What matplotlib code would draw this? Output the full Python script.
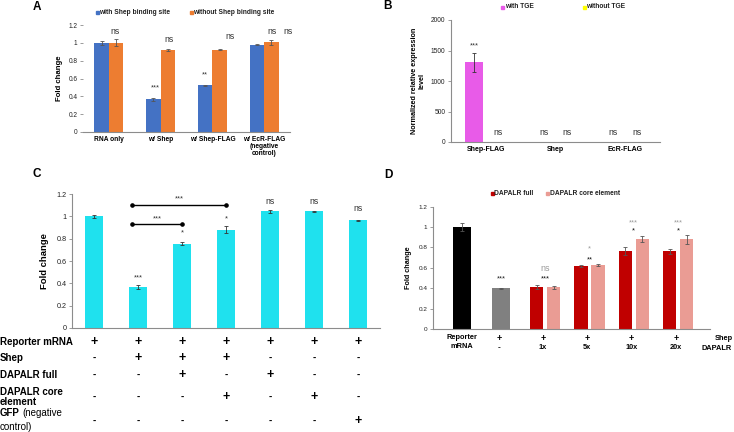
import matplotlib
matplotlib.use('Agg')
import matplotlib.pyplot as plt
import matplotlib.transforms as mtransforms
from matplotlib.patches import Rectangle
import numpy as np

plt.rcParams['font.family'] = ['Liberation Sans', 'DejaVu Sans']

######
# panel A
a_groups = ['RNA only', 'w/ Shep', 'w/ Shep-FLAG', 'w/ EcR-FLAG\n(negative\ncontrol)']
a_with = [1.0, 0.365, 0.525, 0.98]
a_with_err = [0.02, 0.02, 0.005, 0.003]
a_without = [1.0, 0.92, 0.925, 1.005]
a_without_err = [0.04, 0.008, 0.004, 0.025]
# panel B
b_groups = ['Shep-FLAG', 'Shep', 'EcR-FLAG']
b_with = [1310, 0, 0]
b_with_err = [155, 0, 0]
b_without = [0, 0, 0]
# panel C
c_values = [1.0, 0.365, 0.755, 0.88, 1.045, 1.045, 0.965]
c_err = [0.015, 0.018, 0.015, 0.03, 0.015, 0.003, 0.005]
c_sig = ['', '***', '*', '*', 'ns', 'ns', 'ns']
c_rows = ['Reporter mRNA', 'Shep', 'DAPALR full', 'DAPALR core\nelement', 'GFP']
c_table = ['+++++++', '-+++---', '--+-+--', '---+-+-', '------+']
# panel D
d_ctrl = [1.0, 0.4]
d_ctrl_err = [0.035, 0.005]
d_doses = ['1x', '5x', '10x', '20x']
d_full = [0.415, 0.615, 0.765, 0.76]
d_full_err = [0.02, 0.01, 0.035, 0.025]
d_core = [0.41, 0.625, 0.885, 0.88]
d_core_err = [0.015, 0.01, 0.03, 0.045]
######

W, H = 734, 432
fig = plt.figure(figsize=(W/100., H/100.), dpi=100)
fig.patch.set_facecolor('white')

def px_axes(x0, y0, x1, y1):
    return fig.add_axes([x0/W, 1-y1/H, (x1-x0)/W, (y1-y0)/H])

def fy(ypx):
    return 1-ypx/H

def style(ax, left=True, fs=4.7):
    for s in ['top', 'right']:
        ax.spines[s].set_visible(False)
    ax.spines['bottom'].set_color('#8c8c8c')
    ax.spines['bottom'].set_linewidth(0.8)
    ax.spines['left'].set_color('#8c8c8c')
    ax.spines['left'].set_linewidth(0.8)
    ax.spines['left'].set_visible(left)
    ax.tick_params(axis='y', length=2, width=0.6, color='#8c8c8c', labelsize=fs, pad=2, labelcolor='#222222')
    ax.tick_params(axis='x', length=0, pad=3)

def legend_item(xpx, ypx, color, label, fs=4.8):
    fig.patches.append(Rectangle((xpx/W - 1.5/W, fy(ypx) - 1.5/H), 3./W, 3./H,
                                 transform=fig.transFigure, color=color, figure=fig))
    fig.text((xpx+2.5)/W, fy(ypx), label, fontsize=fs, fontweight='bold', va='center', ha='left', color='#222222')

ekw = dict(ecolor='#555555', elinewidth=0.6, capsize=1.3, capthick=0.6)

######  A
ax = px_axes(83, 25, 290, 132)
x = np.arange(len(a_groups))
ax.bar(x-0.14, a_with, 0.28, yerr=a_with_err, color='#4472C4', error_kw=ekw)
ax.bar(x+0.14, a_without, 0.28, yerr=a_without_err, color='#ED7D31', error_kw=ekw)
ax.set_xlim(-0.5, 3.5)
ax.set_ylim(0, 1.2)
ax.set_yticks([0, 0.2, 0.4, 0.6, 0.8, 1, 1.2])
ax.set_yticklabels(['0', '0.2', '0.4', '0.6', '0.8', '1', '1.2'])
ax.set_xticks(x)
ax.set_xticklabels(a_groups, fontsize=4.8, fontweight='bold', va='top', linespacing=1.0)
style(ax, left=False)
ax.set_ylabel('Fold change', fontsize=5.6, fontweight='bold', labelpad=4)
for xx, yy, t in [(0.12, 1.13, 'ns'), (1.16, 1.04, 'ns'), (2.34, 1.07, 'ns'), (3.15, 1.13, 'ns'), (3.46, 1.13, 'ns')]:
    ax.text(xx, yy, t, fontsize=6.2, ha='center', va='center', color='#333333', clip_on=False)
ax.text(0.89, 0.5, '***', fontsize=5.3, ha='center', va='center', color='#333333')
ax.text(1.85, 0.64, '**', fontsize=5.3, ha='center', va='center', color='#333333')
legend_item(97, 12, '#4472C4', 'with Shep binding site')
legend_item(191, 12, '#ED7D31', 'without Shep binding site')
fig.text(37/W, fy(7), 'A', fontsize=8.5, fontweight='bold', va='center', ha='center')

######  B
ax = px_axes(451, 20, 660, 142)
x = np.arange(len(b_groups))
ax.bar(x-0.17, b_with, 0.26, yerr=b_with_err, color='#E85BE8', error_kw=dict(ecolor='#333333', elinewidth=0.6, capsize=1.5, capthick=0.6))
ax.bar(x+0.17, b_without, 0.26, color='#FFFF00')
ax.set_xlim(-0.5, 2.5)
ax.set_ylim(0, 2000)
ax.set_yticks([0, 500, 1000, 1500, 2000])
ax.set_xticks(x)
ax.set_xticklabels(b_groups, fontsize=5, fontweight='bold')
style(ax, fs=4.8)
ax.set_ylabel('Normalized relative expression\nlevel', fontsize=5.2, fontweight='bold', labelpad=4, linespacing=1.1)
ax.text(-0.17, 1570, '***', fontsize=5.3, ha='center', va='center', color='#333333')
for xx in [0.17, 0.83, 1.17, 1.83, 2.17]:
    ax.text(xx, 150, 'ns', fontsize=6.2, ha='center', va='center', color='#333333')
legend_item(503, 7, '#E85BE8', 'with TGE')
legend_item(584, 7, '#FFFF00', 'without TGE')
fig.text(388/W, fy(6), 'B', fontsize=8.5, fontweight='bold', va='center', ha='center')

######  C
ax = px_axes(72, 194, 380, 328)
x = np.arange(len(c_values))
ax.bar(x, c_values, 0.43, yerr=c_err, color='#1FE1EE', error_kw=dict(ecolor='#333333', elinewidth=0.6, capsize=1.3, capthick=0.6))
ax.set_xlim(-0.5, 6.5)
ax.set_ylim(0, 1.2)
ax.set_yticks([0, 0.2, 0.4, 0.6, 0.8, 1, 1.2])
ax.set_yticklabels(['0', '0.2', '0.4', '0.6', '0.8', '1', '1.2'])
ax.set_xticks([])
style(ax, fs=5.2)
ax.set_ylabel('Fold change', fontsize=6.8, fontweight='bold', labelpad=5)
sig_y = [0, 0.45, 0.85, 0.98, 1.13, 1.13, 1.07]
for i, t in enumerate(c_sig):
    if t == 'ns':
        ax.text(i, sig_y[i], t, fontsize=6.2, ha='center', va='center', color='#333333', clip_on=False)
    elif t:
        ax.text(i, sig_y[i], t, fontsize=5.3, ha='center', va='center', color='#333333', clip_on=False)
for xe, yl, ys in [(3.0, 1.10, 1.16), (2.0, 0.935, 0.98)]:
    ax.plot([0.86, xe], [yl, yl], color='black', lw=1.0, marker='o', ms=2.3, clip_on=False)
    ax.text((0.86+xe)/2, ys, '***', fontsize=5.3, ha='center', va='center', color='#333333')
tr = mtransforms.blended_transform_factory(ax.transData, fig.transFigure)
row_y = [342, 358, 375, 397, 421]
label_y = [342, 358, 375, 397, 413]
for r, lab in enumerate(c_rows):
    fig.text(0, fy(label_y[r]), lab, fontsize=7, fontweight='bold', ha='left', va='center', linespacing=1.05)
    for i, s in enumerate(c_table[r]):
        ax.text(i, fy(row_y[r]), s, transform=tr, fontsize=9 if s == '+' else 7, fontweight='bold',
                ha='center', va='center', clip_on=False)
fig.text(22/W, fy(413), '(negative', fontsize=7, ha='left', va='center')
fig.text(0, fy(427), 'control)', fontsize=7, ha='left', va='center')
fig.text(37/W, fy(174), 'C', fontsize=8.5, fontweight='bold', va='center', ha='center')

######  D
ax = px_axes(433, 206.6, 710, 329)
gx = np.arange(2, 2+len(d_doses))
ax.bar([0.12, 1], d_ctrl, 0.42, yerr=d_ctrl_err, color=['#000000', '#808080'], error_kw=ekw)
ax.bar(gx-0.19, d_full, 0.3, yerr=d_full_err, color='#C00000', error_kw=ekw)
ax.bar(gx+0.19, d_core, 0.3, yerr=d_core_err, color='#EA9C94', error_kw=ekw)
ax.set_xlim(-0.535, 5.72)
ax.set_ylim(0, 1.2)
ax.set_yticks([0, 0.2, 0.4, 0.6, 0.8, 1, 1.2])
ax.set_yticklabels(['0', '0.2', '0.4', '0.6', '0.8', '1', '1.2'])
ax.set_xticks([])
style(ax, fs=4.6)
ax.set_ylabel('Fold change', fontsize=5.2, fontweight='bold', labelpad=5)
ax.text(1, 0.49, '***', fontsize=5.3, ha='center', va='center', color='#222222')
grey_sig = [(2, 0.595, 'ns'), (3, 0.79, '*'), (4, 1.04, '***'), (5, 1.04, '***')]
black_sig = [(2, 0.49, '***'), (3, 0.68, '**'), (4, 0.96, '*'), (5, 0.96, '*')]
for xx, yy, t in grey_sig:
    ax.text(xx, yy, t, fontsize=6.5 if t == 'ns' else 5.3, ha='center', va='center', color='#9a9a9a', clip_on=False)
for xx, yy, t in black_sig:
    ax.text(xx, yy, t, fontsize=5.3, ha='center', va='center', color='#111111', clip_on=False)
tr = mtransforms.blended_transform_factory(ax.transData, fig.transFigure)
ax.text(0.12, fy(342), 'Reporter\nmRNA', transform=tr, fontsize=5.3, fontweight='bold', ha='center', va='center', linespacing=1.3)
for xx in [1] + list(gx):
    ax.text(xx-0.05, fy(338), '+', transform=tr, fontsize=6.5, fontweight='bold', ha='center', va='center')
ax.text(1-0.05, fy(347.5), '-', transform=tr, fontsize=6, fontweight='bold', ha='center', va='center')
for xx, d in zip(gx, d_doses):
    ax.text(xx-0.05, fy(347.5), d, transform=tr, fontsize=5.3, fontweight='bold', ha='center', va='center')
fig.text(715/W, fy(338), 'Shep', fontsize=5.3, fontweight='bold', ha='left', va='center')
fig.text(702/W, fy(348), 'DAPALR', fontsize=5.3, fontweight='bold', ha='left', va='center')
legend_item(492, 193, '#C00000', 'DAPALR full')
legend_item(547, 193, '#EA9C94', 'DAPALR core element')
fig.text(388/W, fy(175), 'D', fontsize=8.5, fontweight='bold', va='center', ha='center')

plt.savefig('out.png', dpi=100)
